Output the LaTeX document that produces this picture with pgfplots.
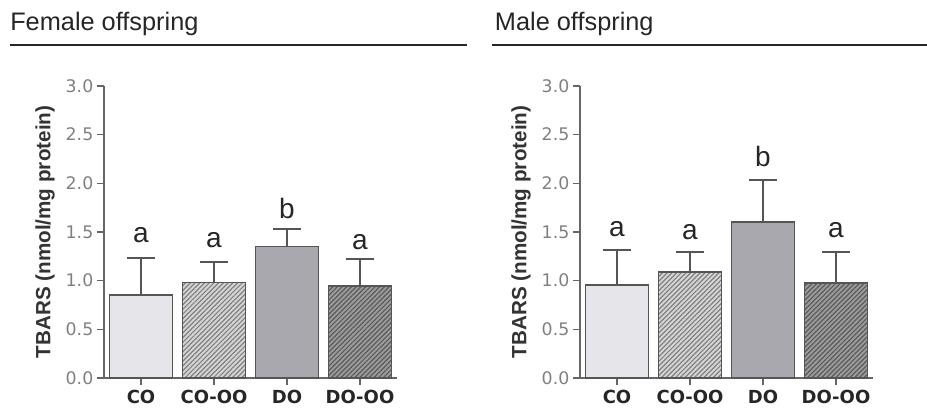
\documentclass[border=0pt]{standalone}
\usepackage{pgfplots}
\pgfplotsset{compat=1.18}
\usepackage{fontspec}
\setmainfont{Liberation Sans}
\newfontfamily\dv{DejaVu Sans}
\usetikzlibrary{patterns.meta}
\definecolor{cofill}{HTML}{E6E6EA}
\definecolor{coolbg}{HTML}{D6D6D6}
\definecolor{coolln}{HTML}{808080}
\definecolor{dofill}{HTML}{A8A8AE}
\definecolor{doolbg}{HTML}{9C9C9C}
\definecolor{doolln}{HTML}{5A5A5A}
\definecolor{edge}{HTML}{555555}
\definecolor{axcol}{HTML}{666666}
\definecolor{tickcol}{HTML}{808080}
\tikzset{lett/.style={anchor=base, font=\fontsize{21}{24}\selectfont, text=black!85}}
\pgfplotsset{
  tbars/.style={
    scale only axis, width=219.75pt, height=219pt, anchor=south west,
    axis x line*=bottom, axis y line*=left,
    axis line style={axcol, line width=1pt},
    every tick/.style={axcol, line width=1pt},
    tick align=outside, major tick length=5.5pt,
    xmin=-0.507, xmax=3.507, ymin=0, ymax=3,
    xtick={0,1,2,3}, xticklabels={CO,CO-OO,DO,DO-OO},
    ytick={0,0.5,1,1.5,2,2.5,3},
    /pgf/number format/assume math mode=true,
    yticklabel style={font=\dv\fontsize{13}{15}\selectfont, text=tickcol, /pgf/number format/fixed, /pgf/number format/precision=1, /pgf/number format/fixed zerofill, xshift=1pt},
    xticklabel style={font=\dv\bfseries\fontsize{13.5}{15}\selectfont, text=black!85},
    ylabel={TBARS (nmol/mg protein)},
    ylabel style={at={(axis description cs:-0.201,0.5)}, anchor=center, font=\bfseries\fontsize{15.5}{17}\selectfont, text=black!80},
    clip=false,
    ybar, bar width=47pt, bar shift=0pt,
    error bars/y dir=plus, error bars/y explicit,
    error bars/error bar style={edge, line width=1.2pt},
    error bars/error mark options={edge, line width=1.2pt, mark size=10.5pt, rotate=90},
  },
  barsty/.style={draw=edge, line width=1.2pt},
}
\begin{document}
\begin{tikzpicture}
\path[use as bounding box] (0,0) rectangle (695.25pt,309pt);
% titles
\node[anchor=base west, font=\fontsize{19}{22}\selectfont, text=black!85, inner sep=0pt] at (7.5pt,286.5pt) {Female offspring};
\node[anchor=base west, font=\fontsize{19}{22}\selectfont, text=black!85, inner sep=0pt] at (371pt,286.5pt) {Male offspring};
\draw[black!85, line width=1pt] (7.5pt,275.25pt) -- (350.25pt,275.25pt);
\draw[black!85, line width=1pt] (369pt,275.25pt) -- (695.25pt,275.25pt);

\begin{axis}[tbars, at={(78pt,25.5pt)}]
\addplot[barsty, fill=cofill] coordinates {(0,0.85) +- (0,0.38)};
\addplot[barsty, fill=coolbg, postaction={pattern={Lines[angle=45,distance=2.5pt,line width=0.9pt]}, pattern color=coolln}] coordinates {(1,0.98) +- (0,0.21)};
\addplot[barsty, fill=dofill] coordinates {(2,1.35) +- (0,0.18)};
\addplot[barsty, fill=doolbg, postaction={pattern={Lines[angle=45,distance=2.5pt,line width=0.9pt]}, pattern color=doolln}] coordinates {(3,0.945) +- (0,0.275)};
\node[lett] at (axis cs:0,1.39) {a};
\node[lett] at (axis cs:1,1.34) {a};
\node[lett] at (axis cs:2,1.64) {b};
\node[lett] at (axis cs:3,1.32) {a};
\end{axis}

\begin{axis}[tbars, at={(435pt,25.5pt)}]
\addplot[barsty, fill=cofill] coordinates {(0,0.955) +- (0,0.36)};
\addplot[barsty, fill=coolbg, postaction={pattern={Lines[angle=45,distance=2.5pt,line width=0.9pt]}, pattern color=coolln}] coordinates {(1,1.09) +- (0,0.205)};
\addplot[barsty, fill=dofill] coordinates {(2,1.60) +- (0,0.435)};
\addplot[barsty, fill=doolbg, postaction={pattern={Lines[angle=45,distance=2.5pt,line width=0.9pt]}, pattern color=doolln}] coordinates {(3,0.975) +- (0,0.32)};
\node[lett] at (axis cs:0,1.45) {a};
\node[lett] at (axis cs:1,1.42) {a};
\node[lett] at (axis cs:2,2.17) {b};
\node[lett] at (axis cs:3,1.44) {a};
\end{axis}
\end{tikzpicture}
\end{document}
